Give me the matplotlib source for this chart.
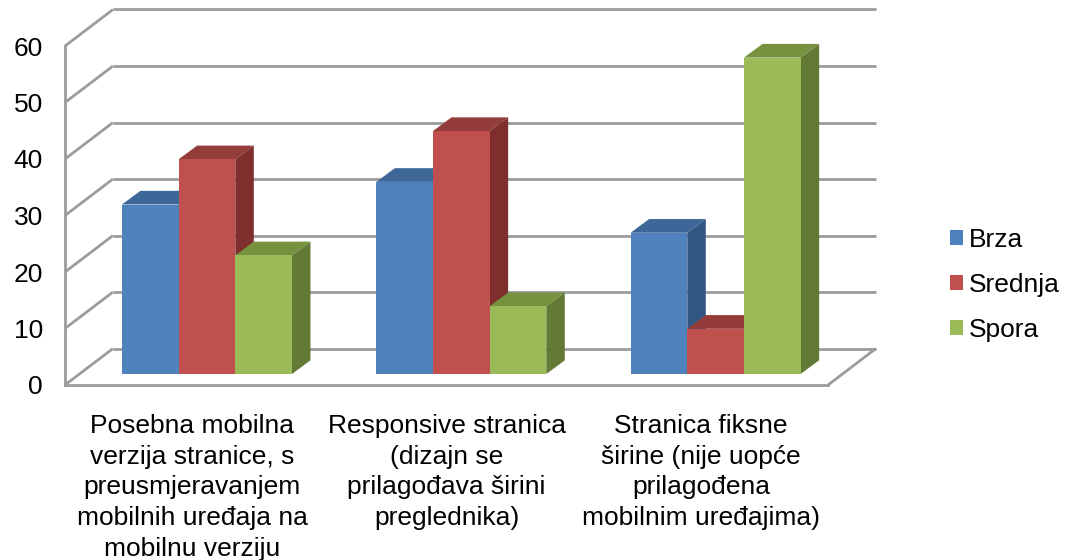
import matplotlib
matplotlib.use("Agg")
import matplotlib.pyplot as plt
from matplotlib.patches import Polygon
import numpy as np

categories = [
    "Posebna mobilna\nverzija stranice, s\npreusmjeravanjem\nmobilnih uređaja na\nmobilnu verziju",
    "Responsive stranica\n(dizajn se\nprilagođava širini\npreglednika)",
    "Stranica fiksne\nširine (nije uopće\nprilagođena\nmobilnim uređajima)",
]
series_names = ["Brza", "Srednja", "Spora"]
brza = [30, 34, 25]
srednja = [38, 43, 8]
spora = [21, 12, 56]
y_ticks = [0, 10, 20, 30, 40, 50, 60]

front_colors = ["#4F81BD", "#C0504D", "#9BBB59"]
top_colors = ["#3D6798", "#943C3A", "#76923F"]
side_colors = ["#325682", "#7E2F2D", "#637A37"]
GRID = "#9C9C9C"

W, H = 1069, 560
fig = plt.figure(figsize=(W / 100, H / 100), dpi=100)
L, R, Y0, Y60 = 65, 828, 385, 46
ax = fig.add_axes([L / W, 1 - Y0 / H, (R - L) / W, (Y0 - Y60) / H])
ax.set_xlim(-0.5, 2.5)
ax.set_ylim(0, 60)

px_x = 3 / (R - L)          # one pixel in category units
px_y = 60 / (Y0 - Y60)      # one pixel in value units
wall_dx, wall_dy = 48 * px_x, 36.5 * px_y
bar_dx, bar_dy = 14.8 * px_x, 11 * px_y
box_dx, box_dy = 18.5 * px_x, 13.7 * px_y
bar_w = 56.67 * px_x

LW = 2.0
line_kw = dict(color=GRID, lw=LW, clip_on=False, solid_capstyle="butt", zorder=1)
for v in y_ticks:
    ax.plot([-0.5, -0.5 + wall_dx], [v, v + wall_dy], **line_kw)
    ax.plot([-0.5 + wall_dx, 2.5 + wall_dx], [v + wall_dy, v + wall_dy], **line_kw)
ax.plot([2.5, 2.5 + wall_dx], [0, wall_dy], **line_kw)

handles = []
for s, vals in enumerate([brza, srednja, spora]):
    pos = np.arange(3) + bar_dx + (s - 1) * bar_w
    bars = ax.bar(pos, vals, bar_w, bottom=bar_dy, color=front_colors[s],
                  clip_on=False, zorder=3 + 3 * s, label=series_names[s], linewidth=0)
    handles.append(bars)
    for p, v in zip(pos, vals):
        x0, x1 = p - bar_w / 2, p + bar_w / 2
        b, t = bar_dy, bar_dy + v
        ax.add_patch(Polygon([(x0, t), (x1, t), (x1 + box_dx, t + box_dy), (x0 + box_dx, t + box_dy)],
                             closed=True, fc=top_colors[s], ec="none", clip_on=False, zorder=2 + 3 * s))
        ax.add_patch(Polygon([(x1, b), (x1 + box_dx, b + box_dy), (x1 + box_dx, t + box_dy), (x1, t)],
                             closed=True, fc=side_colors[s], ec="none", clip_on=False, zorder=2 + 3 * s))

for name in ["top", "right"]:
    ax.spines[name].set_visible(False)
for name in ["left", "bottom"]:
    ax.spines[name].set_color(GRID)
    ax.spines[name].set_linewidth(LW)
    ax.spines[name].set_zorder(2)

FS = 19.0
ax.set_yticks(y_ticks)
ax.set_xticks(range(3))
ax.set_xticklabels(categories, fontsize=FS, family="Liberation Sans", linespacing=1.35, ha="center", va="top")
ax.set_yticklabels([str(v) for v in y_ticks], fontsize=FS, family="Liberation Sans")
ax.tick_params(axis="x", length=0, pad=21)
ax.tick_params(axis="y", length=0, pad=16)

ax.legend(handles=handles, labels=series_names, loc="center left",
          bbox_to_anchor=(950 / W, 1 - 285 / H), bbox_transform=fig.transFigure,
          frameon=False, borderaxespad=0, borderpad=0,
          prop={"family": "Liberation Sans", "size": FS},
          handlelength=0.48, handleheight=0.48, handletextpad=0.22, labelspacing=0.79)

fig.savefig("out.png", dpi=100)
